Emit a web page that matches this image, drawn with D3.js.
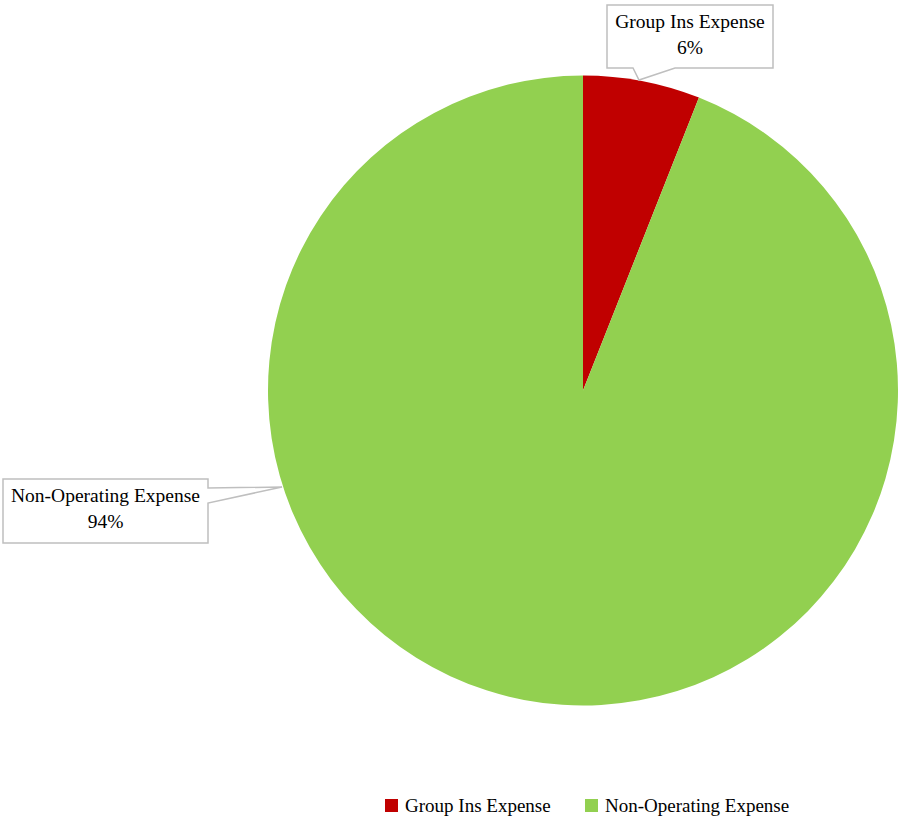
<!DOCTYPE html>
<html>
<head>
<meta charset="utf-8">
<script src="https://cdn.jsdelivr.net/npm/d3@7"></script>
<style>
  html, body { margin: 0; padding: 0; background: #fff; }
  svg { display: block; }
  text { font-family: "Liberation Serif", "Times New Roman", serif; fill: #000; }
</style>
</head>
<body>
<svg id="chart" width="898" height="817"></svg>
<script>
// Expense breakdown (percent of total)
const categories = ["Group Ins Expense", "Non-Operating Expense"];
const values = [6, 94];
const colors = ["#C00000", "#92D050"];

const svg = d3.select("#chart");
const cx = 583, cy = 390.5, radius = 315;

const pie = d3.pie().sort(null).value(d => d.value);
const arc = d3.arc().innerRadius(0).outerRadius(radius);
const data = categories.map((c, i) => ({ name: c, value: values[i], color: colors[i] }));
const arcs = pie(data);
const total = d3.sum(values);

const g = svg.append("g").attr("transform", `translate(${cx},${cy})`);
g.selectAll("path.slice")
  .data(arcs)
  .join("path")
  .attr("class", "slice")
  .attr("d", arc)
  .attr("fill", d => d.data.color);

// Callout boxes with pointer notches toward their slices
const fontSize = 19.5;
const callouts = [
  { i: 0, box: [607, 5, 773, 68], side: "bottom", notch: [633, 675], tip: [639, 80] },
  { i: 1, box: [3, 479, 208, 543], side: "right", notch: [488, 503], tip: [282, 487] }
];

callouts.forEach(c => {
  const [x0, y0, x1, y1] = c.box;
  let pts;
  if (c.side === "bottom") {
    pts = [[x0, y0], [x1, y0], [x1, y1], [c.notch[1], y1], c.tip, [c.notch[0], y1], [x0, y1]];
  } else {
    pts = [[x0, y0], [x1, y0], [x1, c.notch[0]], c.tip, [x1, c.notch[1]], [x1, y1], [x0, y1]];
  }
  svg.append("path")
    .attr("d", d3.line()(pts) + "Z")
    .attr("fill", "#fff")
    .attr("stroke", "#BFBFBF")
    .attr("stroke-width", 1.5);
  const a = arcs[c.i];
  const mx = (x0 + x1) / 2;
  svg.append("text")
    .attr("x", mx).attr("y", y0 + 22.5)
    .attr("text-anchor", "middle")
    .attr("font-size", fontSize)
    .text(a.data.name);
  svg.append("text")
    .attr("x", mx).attr("y", y0 + 48.5)
    .attr("text-anchor", "middle")
    .attr("font-size", fontSize)
    .text(Math.round(a.data.value / total * 100) + "%");
});

// Legend
const legendX = [385, 585];
const legend = svg.append("g");
data.forEach((d, i) => {
  legend.append("rect")
    .attr("x", legendX[i]).attr("y", 799)
    .attr("width", 13).attr("height", 13)
    .attr("fill", d.color);
  legend.append("text")
    .attr("x", legendX[i] + 20).attr("y", 811.5)
    .attr("font-size", 19)
    .text(d.name);
});
</script>
</body>
</html>
